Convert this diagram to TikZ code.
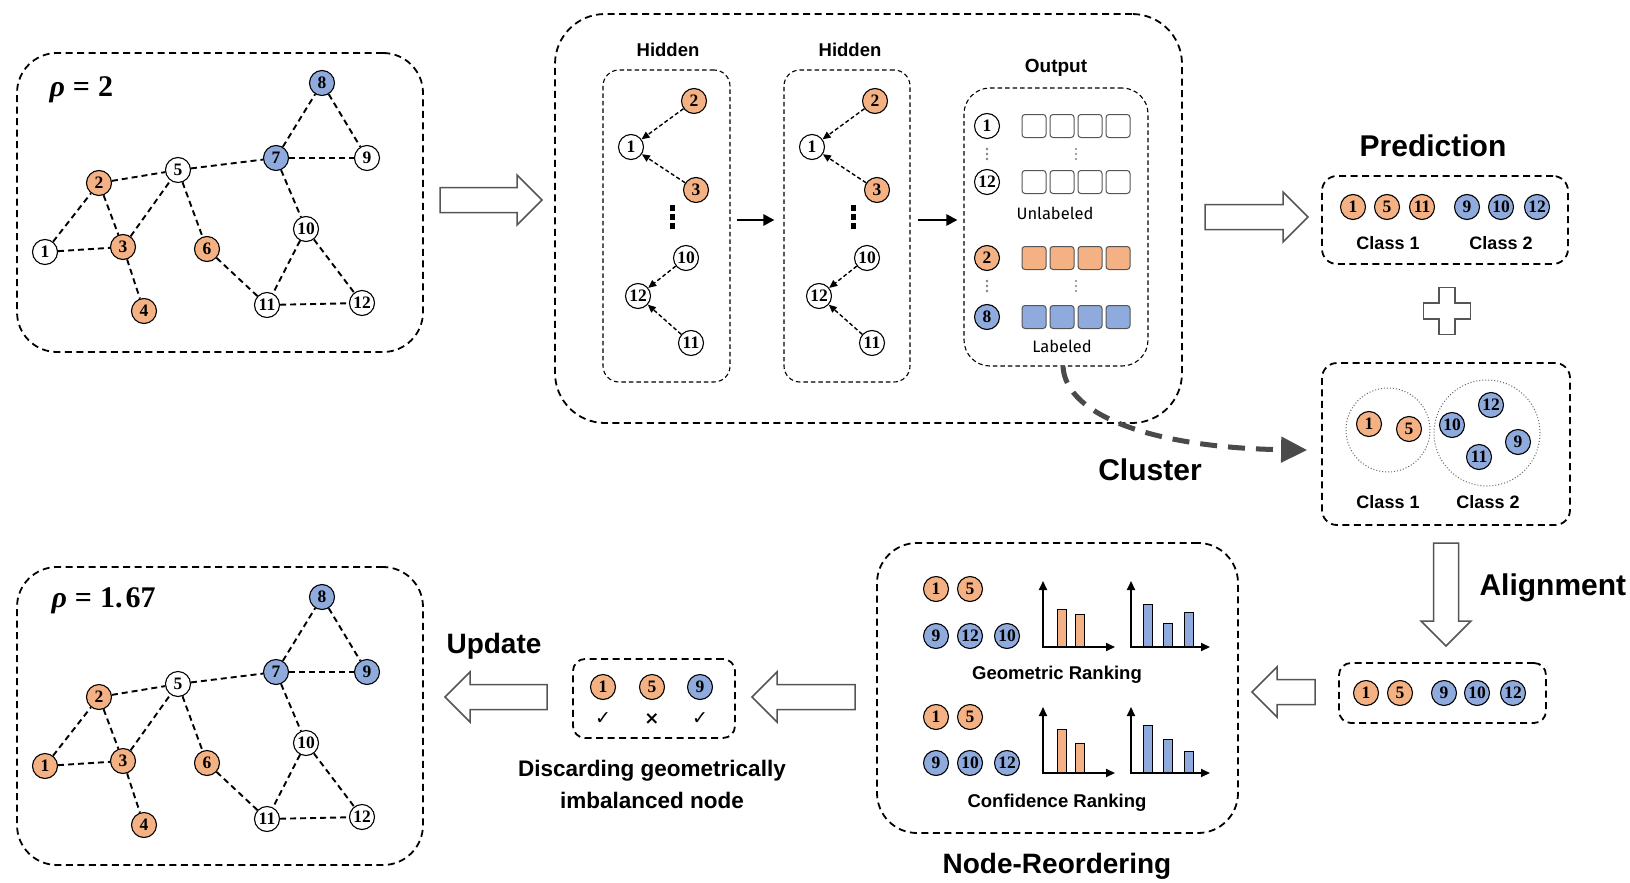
\documentclass[tikz,border=0pt]{standalone}
\usepackage{fontspec}
\setmainfont{Liberation Serif}
\setsansfont{Liberation Sans}
\newfontfamily\firafont{Fira Sans}
\newfontfamily\symfont{DejaVu Sans}
\usetikzlibrary{arrows.meta,calc}
\definecolor{orF}{HTML}{F4B183}
\definecolor{blF}{HTML}{8FAADC}
\definecolor{hgray}{HTML}{555555}
\definecolor{cgray}{HTML}{4A4A4A}
\newcommand{\ttlfont}{\sffamily\bfseries\fontsize{30}{32}\selectfont}
\newcommand{\lblfont}{\sffamily\bfseries\fontsize{18}{20}\selectfont}
\tikzset{
  gn/.style={circle,draw,line width=1.1pt,minimum size=25pt,inner sep=0pt,fill=white,
    font=\fontsize{17.5}{17.5}\selectfont\bfseries},
  nodeW/.style={gn},
  nodeO/.style={gn,fill=orF},
  nodeB/.style={gn,fill=blF},
  gedge/.style={line width=1.9pt,dash pattern=on 6pt off 4pt},
  bigbox/.style={draw,line width=1.8pt,dash pattern=on 7pt off 4.5pt,rounded corners=#1,inner sep=0pt},
  thinbox/.style={draw,line width=1.1pt,dash pattern=on 4.5pt off 3pt,rounded corners=#1,inner sep=0pt},
  harr/.style={line width=1.4pt,dash pattern=on 4pt off 2.5pt,-{Triangle[length=8pt,width=7pt]}},
  solidarr/.style={line width=2.6pt,-{Triangle[length=11pt,width=11pt]}},
  hollowarr/.style={draw=hgray,fill=white,line width=1.5pt,line join=miter},
  cluarr/.style={draw=cgray,line width=5pt,dash pattern=on 17pt off 11pt,-{Triangle[length=26pt,width=25pt,fill=cgray]}},
  sq/.style={draw=hgray,line width=1pt,rounded corners=3pt,minimum width=24pt,minimum height=23pt,inner sep=0pt},
  axarr/.style={line width=1.8pt,{Triangle[length=9pt,width=8pt]}-{Triangle[length=9pt,width=8pt]}},
  barst/.style={draw,line width=1pt},
  dotc/.style={draw=gray!80!black,line width=1pt,dotted}
}
% block arrow: tip, angle, length
\newcommand{\blockarrow}[3]{%
  \draw[hollowarr,shift={#1},rotate=#2] (0,0) -- (-25,-25) -- (-25,-12.5) -- (-#3,-12.5)
    -- (-#3,12.5) -- (-25,12.5) -- (-25,25) -- cycle;}
% graph: prefix, y offset, style of node 1, style of node 9
\newcommand{\drawgraph}[4]{%
  \begin{scope}[yshift=-#2pt]
    \node[#3] (#1n1) at (45,252) {1};
    \node[nodeO] (#1n2) at (99,183) {2};
    \node[nodeO] (#1n3) at (123,247) {3};
    \node[nodeO] (#1n4) at (144,311) {4};
    \node[nodeW] (#1n5) at (178,170) {5};
    \node[nodeO] (#1n6) at (207,249) {6};
    \node[nodeB] (#1n7) at (276,158) {7};
    \node[nodeB] (#1n8) at (322,83) {8};
    \node[#4] (#1n9) at (367,158) {9};
    \node[nodeW] (#1n10) at (306,229) {10};
    \node[nodeW] (#1n11) at (267,305) {11};
    \node[nodeW] (#1n12) at (362,303) {12};
    \foreach \a/\b in {1/2,1/3,2/3,2/5,3/5,3/4,5/6,5/7,6/11,7/8,7/9,8/9,7/10,10/11,10/12,11/12}
      \draw[gedge] (#1n\a) -- (#1n\b);
  \end{scope}}
\begin{document}
\begin{tikzpicture}[x=1pt,y=-1pt]
\useasboundingbox[fill=white] (0,0) rectangle (1630,883);

% ---------- top-left graph ----------
\node[bigbox=40pt,minimum width=406pt,minimum height=299pt] (g1box) at (220,202.5) {};
\node[anchor=west,font=\fontsize{30}{30}\selectfont\bfseries] (rho1) at (46,90) {\textit{ρ}\hspace{8pt}=\hspace{8pt}2};
\drawgraph{a}{0}{nodeW}{nodeW}

% ---------- bottom-left graph ----------
\node[bigbox=40pt,minimum width=406pt,minimum height=298pt] (g2box) at (220,716) {};
\node[anchor=west,font=\fontsize{30}{30}\selectfont\bfseries] (rho2) at (48,601) {\textit{ρ}\hspace{8pt}=\hspace{8pt}1.\hspace{3pt}67};
\drawgraph{b}{514}{nodeO}{nodeB}

% ---------- big model box ----------
\blockarrow{(542,200)}{0}{102}
\node[bigbox=50pt,minimum width=627pt,minimum height=409pt] (bigbox) at (868.5,218.5) {};
\node[font=\sffamily\bfseries\fontsize{18.5}{20}\selectfont] (hl1) at (668,50) {Hidden};
\node[font=\sffamily\bfseries\fontsize{18.5}{20}\selectfont] (hl2) at (850,50) {Hidden};
\node[font=\sffamily\bfseries\fontsize{19}{20}\selectfont] (ol) at (1056,68) {Output};
\node[thinbox=16pt,minimum width=127pt,minimum height=312pt] (hb1) at (666.5,226) {};
\node[thinbox=16pt,minimum width=126pt,minimum height=312pt] (hb2) at (847,226) {};
\node[thinbox=26pt,minimum width=184pt,minimum height=278pt] (ob) at (1056,227) {};

% hidden 1
\node[nodeO] (ha2) at (694,101) {2};
\node[nodeW] (ha1) at (631,147) {1};
\node[nodeO] (ha3) at (696,190) {3};
\node[nodeW] (ha10) at (686,258) {10};
\node[nodeW] (ha12) at (638,296) {12};
\node[nodeW] (ha11) at (691,343) {11};
\draw[harr] (ha2) -- (ha1);
\draw[harr] (ha3) -- (ha1);
\draw[harr] (ha10) -- (ha12);
\draw[harr] (ha11) -- (ha12);
\foreach \yy in {208,217,226} \fill (669.5,\yy-3) rectangle (674.5,\yy+3);
% hidden 2
\node[nodeO] (hb2n) at (875,101) {2};
\node[nodeW] (hb1n) at (812,147) {1};
\node[nodeO] (hb3n) at (877,190) {3};
\node[nodeW] (hb10n) at (867,258) {10};
\node[nodeW] (hb12n) at (819,296) {12};
\node[nodeW] (hb11n) at (872,343) {11};
\draw[harr] (hb2n) -- (hb1n);
\draw[harr] (hb3n) -- (hb1n);
\draw[harr] (hb10n) -- (hb12n);
\draw[harr] (hb11n) -- (hb12n);
\foreach \yy in {208,217,226} \fill (850.5,\yy-3) rectangle (855.5,\yy+3);
% solid arrows
\draw[solidarr,shorten <=6pt,shorten >=9pt] ([yshift=6pt]hb1.east) -- ([yshift=6pt]hb2.west);
\draw[solidarr,shorten <=7pt,shorten >=6pt] ([yshift=6pt]hb2.east) -- ([yshift=6pt]ob.west |- hb2.east);

% output contents
\node[nodeW] (o1) at (987,126) {1};
\node[nodeW] (o12) at (987,182) {12};
\node[nodeO] (o2) at (987,258) {2};
\node[nodeB] (o8) at (987,317) {8};
\foreach \r/\yy/\cc in {1/126/white,2/182/white,3/258/orF,4/317/blF}
  \foreach \c/\xx in {1/1034,2/1062,3/1090,4/1118}
    \node[sq,fill=\cc] (sq\r\c) at (\xx,\yy) {};
\foreach \yy in {149,154,159} {\fill[gray] (987,\yy) circle (1.3pt); \fill[gray] (1076,\yy) circle (1.1pt);}
\foreach \yy in {281,286,291} {\fill[gray] (987,\yy) circle (1.3pt); \fill[gray] (1076,\yy) circle (1.1pt);}
\node[font=\firafont\fontsize{16.5}{18}\selectfont] (unl) at (1055,213) {Unlabeled};
\node[font=\firafont\fontsize{16.5}{18}\selectfont] (lab) at (1062,346) {Labeled};

% ---------- prediction ----------
\node[font=\ttlfont] (predl) at (1433,146) {Prediction};
\blockarrow{(1308,217)}{0}{103}
\node[bigbox=15pt,minimum width=246pt,minimum height=88pt] (pbox) at (1445,220) {};
\node[nodeO] (p1) at (1353,207) {1};
\node[nodeO] (p5) at (1387,207) {5};
\node[nodeO] (p11) at (1422,207) {11};
\node[nodeB] (p9) at (1467,207) {9};
\node[nodeB] (p10) at (1501,207) {10};
\node[nodeB] (p12) at (1537,207) {12};
\node[font=\lblfont] (pc1) at (1388,243) {Class 1};
\node[font=\lblfont] (pc2) at (1501,243) {Class 2};

% plus
\draw[hollowarr] (1439,287.5) -- (1455,287.5) -- (1455,303) -- (1470.5,303) -- (1470.5,319) -- (1455,319)
  -- (1455,334.5) -- (1439,334.5) -- (1439,319) -- (1423.5,319) -- (1423.5,303) -- (1439,303) -- cycle;

% ---------- cluster ----------
\node[bigbox=15pt,minimum width=248pt,minimum height=162pt] (cbox) at (1446,444) {};
\draw[dotc] (1388,430) circle (42pt);
\draw[dotc] (1487,433) circle (53pt);
\node[nodeO] (c1) at (1369,424) {1};
\node[nodeO] (c5) at (1409,429) {5};
\node[nodeB] (c10) at (1452,425) {10};
\node[nodeB] (c12) at (1491,405) {12};
\node[nodeB] (c9) at (1518,442) {9};
\node[nodeB] (c11) at (1479,457) {11};
\node[font=\lblfont] (cc1) at (1388,502) {Class 1};
\node[font=\lblfont] (cc2) at (1488,502) {Class 2};
\draw[cluarr] ([xshift=7pt]ob.south) .. controls (1066,418) and (1160,448) .. ([xshift=-14pt,yshift=-6pt]cbox.west);
\node[font=\ttlfont] (clul) at (1150,470) {Cluster};

% ---------- alignment ----------
\blockarrow{(1446,646)}{-90}{103}
\node[font=\ttlfont,anchor=west] (alil) at (1476,588) {Alignment};
\node[bigbox=12pt,minimum width=207pt,minimum height=60pt] (abox) at (1442.5,693) {};
\node[nodeO] (a1) at (1366,693) {1};
\node[nodeO] (a5) at (1400,693) {5};
\node[nodeB] (a9) at (1444,693) {9};
\node[nodeB] (a10) at (1477,693) {10};
\node[nodeB] (a12) at (1513,693) {12};
\blockarrow{(1252,692)}{180}{63}

% ---------- node reordering ----------
\node[bigbox=40pt,minimum width=361pt,minimum height=290pt] (rbox) at (1057.5,688) {};
\node[nodeO] (r1) at (936,589) {1};
\node[nodeO] (r5) at (970,589) {5};
\node[nodeB] (r9) at (936,636) {9};
\node[nodeB] (r12) at (970,636) {12};
\node[nodeB] (r10) at (1007,636) {10};
\node[nodeO] (s1) at (936,717) {1};
\node[nodeO] (s5) at (970,717) {5};
\node[nodeB] (s9) at (936,763) {9};
\node[nodeB] (s10) at (970,763) {10};
\node[nodeB] (s12) at (1007,763) {12};
% charts
\draw[barst,fill=orF] (1057,647) rectangle (1066,609);
\draw[barst,fill=orF] (1075,647) rectangle (1084,614);
\draw[axarr] (1043,581) -- (1043,647) -- (1115,647);
\draw[barst,fill=blF] (1143,647) rectangle (1152,604);
\draw[barst,fill=blF] (1163,647) rectangle (1172,623);
\draw[barst,fill=blF] (1184,647) rectangle (1193,612);
\draw[axarr] (1131,581) -- (1131,647) -- (1210,647);
\draw[barst,fill=orF] (1057,773) rectangle (1066,729);
\draw[barst,fill=orF] (1075,773) rectangle (1084,743);
\draw[axarr] (1043,707) -- (1043,773) -- (1115,773);
\draw[barst,fill=blF] (1143,773) rectangle (1152,725);
\draw[barst,fill=blF] (1163,773) rectangle (1172,739);
\draw[barst,fill=blF] (1184,773) rectangle (1193,751);
\draw[axarr] (1131,707) -- (1131,773) -- (1210,773);
\node[font=\sffamily\bfseries\fontsize{18.5}{20}\selectfont] (geol) at (1057,675) {Geometric Ranking};
\node[font=\sffamily\bfseries\fontsize{18.5}{20}\selectfont] (conl) at (1057,803) {Confidence Ranking};
\node[font=\sffamily\bfseries\fontsize{28}{30}\selectfont] (nrl) at (1057,866) {Node-Reordering};

% ---------- discarding ----------
\blockarrow{(752,697)}{180}{103}
\node[bigbox=12pt,minimum width=162pt,minimum height=79pt] (dbox) at (654,698.5) {};
\node[nodeO] (d1) at (603,687) {1};
\node[nodeO] (d5) at (652,687) {5};
\node[nodeB] (d9) at (700,687) {9};
\node[font=\symfont\fontsize{19}{19}\selectfont] (m1) at (603,719) {✓};
\node[font=\symfont\bfseries\fontsize{18}{18}\selectfont] (m2) at (652,719) {×};
\node[font=\symfont\fontsize{19}{19}\selectfont] (m3) at (700,719) {✓};
\node[font=\sffamily\bfseries\fontsize{22.5}{32}\selectfont,align=center] (discl) at (652,784) {Discarding geometrically\\imbalanced node};
\node[font=\sffamily\bfseries\fontsize{28}{30}\selectfont,anchor=west] (updl) at (443,646) {Update};
\blockarrow{(445,697)}{180}{102}
\end{tikzpicture}
\end{document}
